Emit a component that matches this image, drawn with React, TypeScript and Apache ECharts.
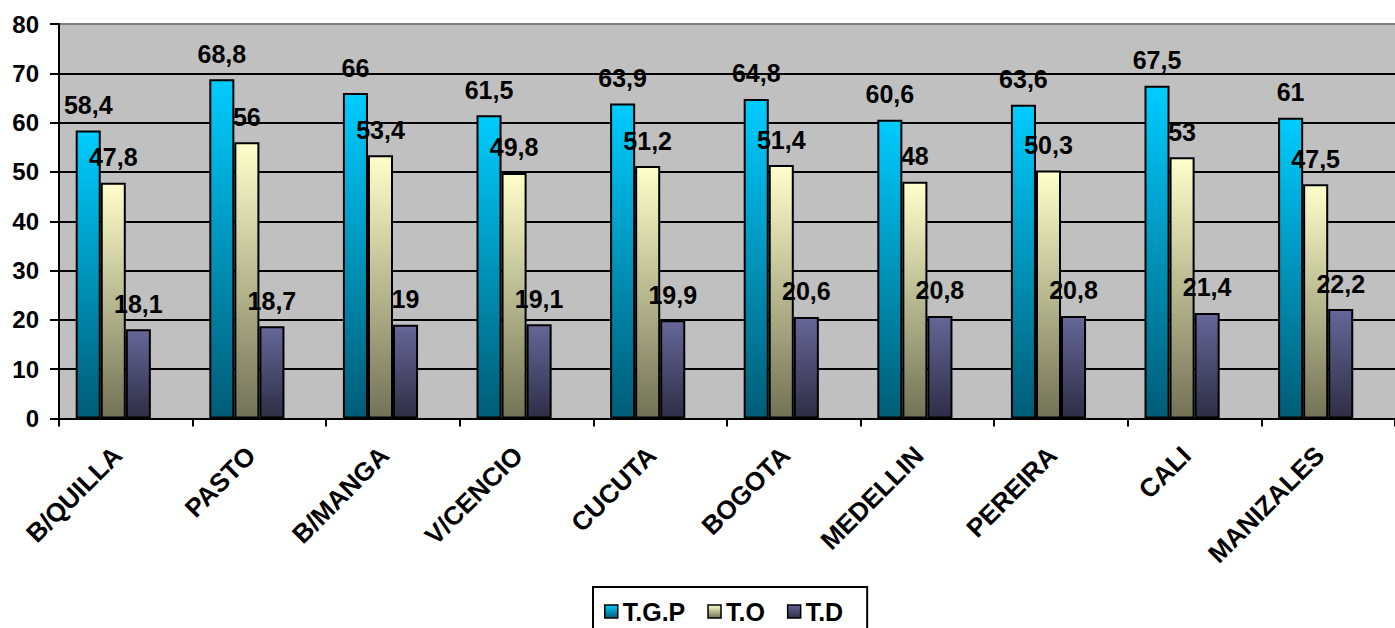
import React, { useEffect, useRef } from "react";
import * as echarts from "echarts";

const categories = ["B/QUILLA", "PASTO", "B/MANGA", "V/CENCIO", "CUCUTA", "BOGOTA", "MEDELLIN", "PEREIRA", "CALI", "MANIZALES"];
const seriesNames = ["T.G.P", "T.O", "T.D"];
const tgp = [58.4, 68.8, 66, 61.5, 63.9, 64.8, 60.6, 63.6, 67.5, 61];
const to = [47.8, 56, 53.4, 49.8, 51.2, 51.4, 48, 50.3, 53, 47.5];
const td = [18.1, 18.7, 19, 19.1, 19.9, 20.6, 20.8, 20.8, 21.4, 22.2];
const emptySeries = [null, null, null, null, null, null, null, null, null, null];

const FONT = "'Liberation Sans', Arial, sans-serif";

function grad(top: string, bottom: string) {
  return new echarts.graphic.LinearGradient(0, 0, 0, 1, [
    { offset: 0, color: top },
    { offset: 1, color: bottom },
  ]);
}

export default function App() {
  const ref = useRef<HTMLDivElement>(null);
  useEffect(() => {
    if (!ref.current) return;
    const chart = echarts.init(ref.current, undefined, { renderer: "svg" });
    const label = {
      show: true,
      position: "top" as const,
      distance: 13,
      color: "#000",
      fontFamily: FONT,
      fontWeight: "bold" as const,
      fontSize: 25,
      formatter: (p: any) => String(p.value).replace(".", ","),
    };
    const mk = (name: string, data: any[], top: string, bottom: string) => ({
      name,
      type: "bar",
      data,
      barGap: "0%",
      barCategoryGap: "25%",
      itemStyle: { color: grad(top, bottom), borderColor: "#000", borderWidth: 2 },
      label,
    });
    chart.setOption({
      animation: false,
      backgroundColor: "#fff",
      grid: {
        left: 59,
        right: 0,
        top: 24,
        bottom: 209.5,
        show: true,
        backgroundColor: "#C0C0C0",
        borderWidth: 0,
      },
      legend: {
        data: seriesNames,
        left: 593,
        top: 587,
        orient: "horizontal",
        icon: "rect",
        itemWidth: 13,
        itemHeight: 13,
        itemGap: 22,
        padding: [12, 24, 14, 11],
        borderColor: "#000",
        borderWidth: 2,
        backgroundColor: "#fff",
        itemStyle: { borderColor: "#000", borderWidth: 1.5 },
        textStyle: { fontFamily: FONT, fontWeight: "bold", fontSize: 25, color: "#000" },
      },
      xAxis: {
        type: "category",
        data: categories,
        axisLine: { lineStyle: { color: "#000", width: 2 } },
        axisTick: { show: true, inside: false, length: 8, lineStyle: { color: "#000", width: 2 } },
        axisLabel: {
          rotate: 45,
          margin: 24,
          padding: [0, 12, 0, 0],
          color: "#000",
          fontFamily: FONT,
          fontWeight: "bold",
          fontSize: 26,
          interval: 0,
        },
      },
      yAxis: {
        type: "value",
        min: 0,
        max: 80,
        interval: 10,
        axisLine: { show: true, lineStyle: { color: "#000", width: 2 } },
        axisTick: { show: true, inside: false, length: 9, lineStyle: { color: "#000", width: 2 } },
        axisLabel: {
          margin: 20,
          color: "#000",
          fontFamily: FONT,
          fontWeight: "bold",
          fontSize: 24,
        },
        splitLine: {
          show: true,
          lineStyle: {
            color: ["#000", "#000", "#000", "#000", "#000", "#000", "#000", "#000", "#808080"],
            width: 2,
          },
        },
      },
      series: [
        mk(seriesNames[0], tgp, "#00CCFF", "#005C76"),
        mk(seriesNames[1], to, "#FFFFCC", "#727256"),
        mk(seriesNames[2], td, "#666699", "#2E2E46"),
        { name: "empty", type: "bar", data: emptySeries, barGap: "0%", barCategoryGap: "25%" },
      ],
    });
    return () => chart.dispose();
  }, []);
  return (
    <div
      ref={ref}
      style={{ position: "fixed", left: 0, top: 0, width: 1395, height: 628, background: "#fff" }}
    />
  );
}
